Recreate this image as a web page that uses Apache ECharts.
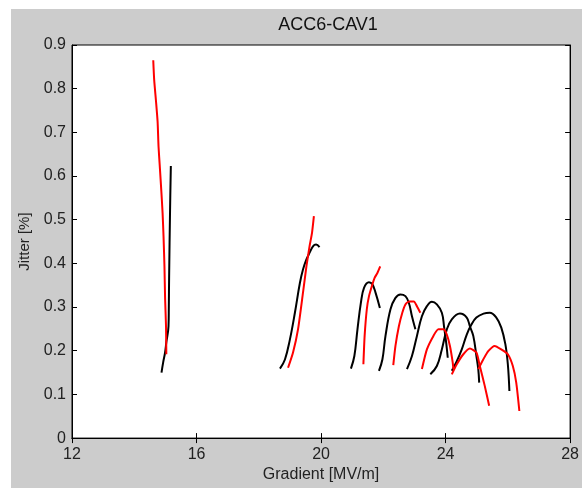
<!DOCTYPE html>
<html><head><meta charset="utf-8">
<script src="https://cdn.jsdelivr.net/npm/echarts@6/dist/echarts.min.js"></script>
<style>
html,body{margin:0;padding:0;background:#fff;}
#bg{position:absolute;left:11px;top:9px;width:571px;height:479px;background:#cccccc;}
#c{position:absolute;left:0;top:0;width:582px;height:488px;}
</style></head><body>
<div id="bg"></div><div id="c"></div>
<script>
// Gradient [MV/m], Jitter [%]
var xTicks = [12, 16, 20, 24, 28];
var yTicks = [0, 0.1, 0.2, 0.3, 0.4, 0.5, 0.6, 0.7, 0.8, 0.9];

var black1 = [[14.875,0.150],[14.93,0.174],[14.99,0.196],[15.03,0.219],[15.10,0.256],[15.11,0.300],[15.12,0.371],[15.15,0.523],[15.175,0.623]];
var red1 = [[14.61,0.865],[14.64,0.820],[14.70,0.770],[14.75,0.724],[14.78,0.667],[14.82,0.622],[14.87,0.565],[14.91,0.515],[14.94,0.462],[14.97,0.393],[14.99,0.321],[15.02,0.256],[15.03,0.192]];

var black2 = [[18.68,0.159],[18.84,0.180],[19.00,0.226],[19.16,0.287],[19.32,0.355],[19.42,0.386],[19.53,0.409],[19.63,0.424],[19.74,0.439],[19.84,0.443],[19.95,0.437]];
var red2 = [[18.94,0.161],[19.10,0.196],[19.26,0.249],[19.42,0.333],[19.53,0.393],[19.63,0.439],[19.71,0.470],[19.77,0.508]];

var black3 = [[20.96,0.159],[21.07,0.188],[21.17,0.249],[21.28,0.310],[21.38,0.344],[21.54,0.357],[21.65,0.352],[21.75,0.333],[21.89,0.298]];
var red3 = [[21.36,0.169],[21.40,0.234],[21.47,0.295],[21.54,0.325],[21.65,0.352],[21.72,0.367],[21.81,0.378],[21.90,0.393]];

var black4 = [[21.86,0.154],[21.97,0.180],[22.07,0.234],[22.23,0.295],[22.39,0.321],[22.55,0.329],[22.71,0.325],[22.82,0.310],[22.92,0.279],[23.03,0.249]];
var red4 = [[22.32,0.167],[22.39,0.211],[22.50,0.256],[22.61,0.287],[22.71,0.306],[22.82,0.313],[22.98,0.313],[23.08,0.302],[23.19,0.287]];

var black5 = [[22.76,0.158],[22.92,0.188],[23.08,0.234],[23.24,0.279],[23.40,0.302],[23.56,0.312],[23.72,0.306],[23.88,0.287],[23.95,0.256],[24.02,0.218],[24.07,0.184]];
var red5 = [[23.24,0.158],[23.40,0.203],[23.61,0.234],[23.77,0.249],[23.93,0.249],[24.04,0.237],[24.14,0.211],[24.23,0.173],[24.25,0.158]];

var black6 = [[23.51,0.146],[23.72,0.165],[23.88,0.203],[24.04,0.249],[24.20,0.272],[24.46,0.285],[24.68,0.276],[24.78,0.256],[24.89,0.234],[24.99,0.188],[25.05,0.158],[25.08,0.127]];
var red6 = [[24.20,0.146],[24.36,0.169],[24.57,0.192],[24.78,0.205],[24.99,0.196],[25.10,0.165],[25.26,0.119],[25.40,0.074]];

var black7 = [[24.20,0.154],[24.36,0.176],[24.52,0.203],[24.68,0.237],[24.83,0.260],[24.99,0.276],[25.22,0.285],[25.42,0.287],[25.63,0.276],[25.79,0.253],[25.92,0.215],[26.00,0.169],[26.05,0.108]];
var red7 = [[25.05,0.158],[25.21,0.180],[25.37,0.199],[25.58,0.211],[25.79,0.203],[26.00,0.192],[26.16,0.165],[26.27,0.127],[26.37,0.062]];

var blacks = [black1, black2, black3, black4, black5, black6, black7];
var reds = [red1, red2, red3, red4, red5, red6, red7];

var font = 'Liberation Sans, Arial, sans-serif';
var series = [];
blacks.forEach(function(d){ series.push({type:'line', data:d, showSymbol:false, symbol:'none', smooth:0.4, lineStyle:{color:'#000', width:2}, z:3, animation:false}); });
reds.forEach(function(d){ series.push({type:'line', data:d, showSymbol:false, symbol:'none', smooth:0.2, lineStyle:{color:'#ff0000', width:2}, z:4, animation:false}); });

var chart = echarts.init(document.getElementById('c'), null, {renderer:'canvas'});
var tickStyle = {show:true, inside:true, length:5, lineStyle:{color:'#000', width:1}};
chart.setOption({
  animation:false,
  backgroundColor:'transparent',
  title:{text:'ACC6-CAV1', left:323, top:11, textAlign:'center',
    textStyle:{fontFamily:font, fontSize:18, fontWeight:'normal', color:'#111'}},
  grid:{left:72, top:45, right:8, bottom:49, show:true, backgroundColor:'#fff', borderColor:'#000', borderWidth:1},
  xAxis:[{type:'value', min:xTicks[0], max:xTicks[xTicks.length-1], interval:4, position:'bottom',
    axisLine:{show:true, lineStyle:{color:'#000', width:1}}, axisTick:tickStyle, splitLine:{show:false},
    axisLabel:{color:'#222', fontFamily:font, fontSize:16, margin:8},
    name:'Gradient [MV/m]', nameLocation:'middle', nameGap:24,
    nameTextStyle:{color:'#222', fontFamily:font, fontSize:16}},
   {type:'value', min:12, max:28, interval:4, position:'top',
    axisLine:{show:true, lineStyle:{color:'#000', width:1}}, axisTick:tickStyle, splitLine:{show:false}, axisLabel:{show:false}}],
  yAxis:[{type:'value', min:yTicks[0], max:yTicks[yTicks.length-1], interval:0.1, position:'left',
    axisLine:{show:true, lineStyle:{color:'#000', width:1}}, axisTick:tickStyle, splitLine:{show:false},
    axisLabel:{color:'#222', fontFamily:font, fontSize:16, margin:6},
    name:'Jitter [%]', nameLocation:'middle', nameGap:38,
    nameTextStyle:{color:'#222', fontFamily:font, fontSize:15}},
   {type:'value', min:0, max:0.9, interval:0.1, position:'right',
    axisLine:{show:true, lineStyle:{color:'#000', width:1}}, axisTick:tickStyle, splitLine:{show:false}, axisLabel:{show:false}}],
  series:series
});
</script></body></html>
